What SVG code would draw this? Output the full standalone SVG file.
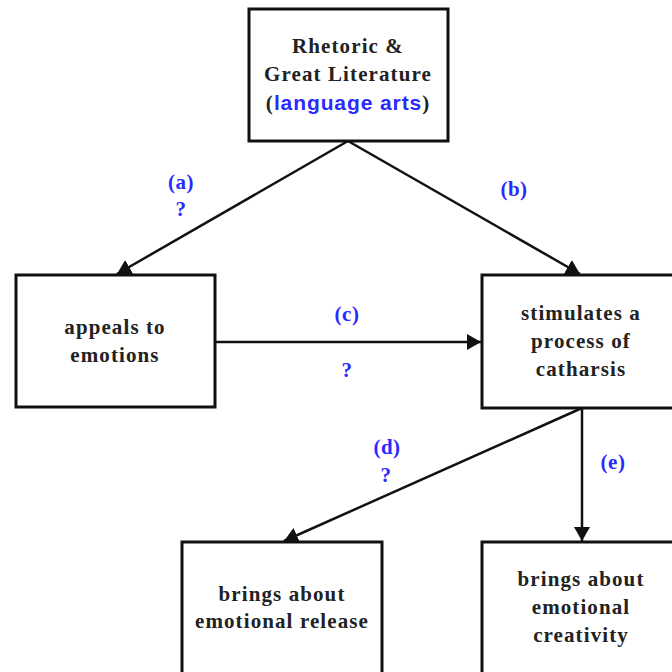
<svg xmlns="http://www.w3.org/2000/svg" width="672" height="672" viewBox="0 0 672 672">
<style>
.box{fill:#fff;stroke:#111;stroke-width:3}
.t{font-family:"Liberation Serif","Times New Roman",serif;font-weight:bold;font-size:21px;letter-spacing:1.1px;fill:#222;text-anchor:middle}
.l{font-family:"Liberation Serif","Times New Roman",serif;font-weight:bold;font-size:21px;letter-spacing:0.5px;fill:#2a2aff;text-anchor:middle}
.s{font-family:"Liberation Sans",Arial,sans-serif;font-weight:bold;font-size:21px;letter-spacing:0.9px;fill:#2a2aff}
.c{stroke:#111;stroke-width:2.5;fill:none;marker-end:url(#ah)}
</style>
<defs>
<marker id="ah" viewBox="0 0 14 16" refX="14" refY="8" markerWidth="14" markerHeight="16" markerUnits="userSpaceOnUse" orient="auto">
<path d="M0,0 L14,8 L0,16 Z" fill="#111"/>
</marker>
</defs>
<rect width="672" height="672" fill="#fff"/>
<g id="connectors">
<path class="c" d="M348,141 L117,274"/>
<path class="c" d="M348,141 L580,274"/>
<path class="c" d="M215,342 L481,342"/>
<path class="c" d="M582,408 L284,541"/>
<path class="c" d="M582,408 L582,541"/>
</g>
<g id="labels">
<text class="l" x="181" y="189">(a)</text>
<text class="l" x="181" y="216">?</text>
<text class="l" x="514" y="196">(b)</text>
<text class="l" x="347" y="321">(c)</text>
<text class="l" x="347" y="377">?</text>
<text class="l" x="387" y="454">(d)</text>
<text class="l" x="386" y="482">?</text>
<text class="l" x="613" y="469">(e)</text>
</g>
<g id="n1">
<rect class="box" x="249" y="9" width="199" height="132"/>
<text class="t" x="348" y="53">Rhetoric &amp;</text>
<text class="t" x="348" y="81">Great Literature</text>
<text class="t" x="348" y="110">(<tspan class="s">language arts</tspan>)</text>
</g>
<g id="n2">
<rect class="box" x="16" y="275" width="199" height="132"/>
<text class="t" x="115" y="334">appeals to</text>
<text class="t" x="115" y="362">emotions</text>
</g>
<g id="n3">
<rect class="box" x="482" y="275" width="200" height="133"/>
<text class="t" x="581" y="320">stimulates a</text>
<text class="t" x="581" y="348">process of</text>
<text class="t" x="581" y="376">catharsis</text>
</g>
<g id="n4">
<rect class="box" x="182" y="542" width="200" height="140"/>
<text class="t" x="282" y="601">brings about</text>
<text class="t" x="282" y="628">emotional release</text>
</g>
<g id="n5">
<rect class="box" x="482" y="542" width="200" height="140"/>
<text class="t" x="581" y="586">brings about</text>
<text class="t" x="581" y="614">emotional</text>
<text class="t" x="581" y="642">creativity</text>
</g>
</svg>
